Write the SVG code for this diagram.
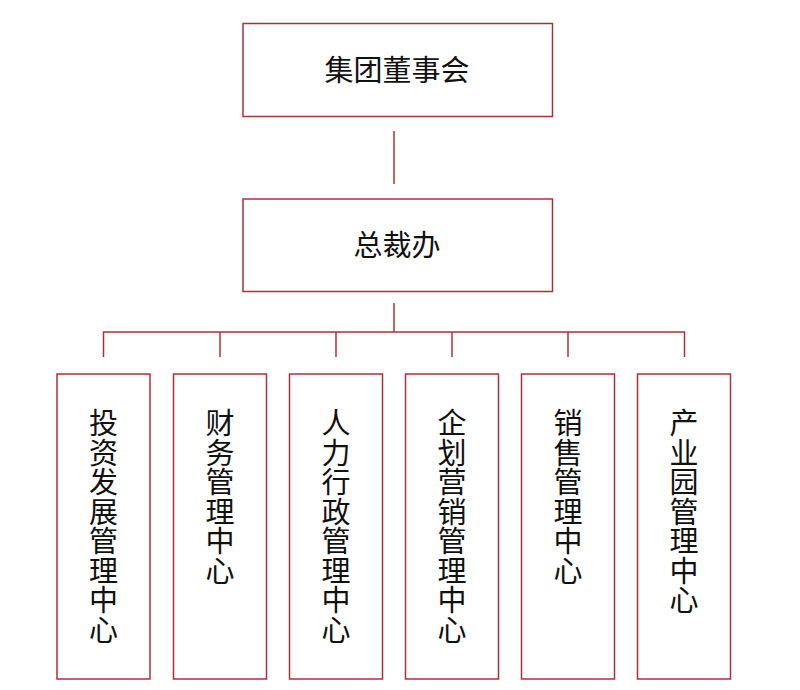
<svg xmlns="http://www.w3.org/2000/svg" width="800" height="690" viewBox="0 0 800 690">
<style>
.box{fill:#ffffff;stroke:#a8323c;stroke-width:1.5}
.ln{fill:none;stroke:#a8323c;stroke-width:1.5}
.t{font-family:"Noto Sans CJK SC","Noto Sans",sans-serif;font-size:29px;fill:#111111;text-anchor:middle}
</style>
<rect width="800" height="690" fill="#ffffff"/>
<g id="connectors">
<line class="ln" x1="394" y1="131" x2="394" y2="184"/>
<line class="ln" x1="394" y1="303" x2="394" y2="332"/>
<polyline class="ln" points="103.5,357 103.5,332 684.5,332 684.5,357"/>
<line class="ln" x1="220" y1="332" x2="220" y2="357"/>
<line class="ln" x1="336" y1="332" x2="336" y2="357"/>
<line class="ln" x1="452" y1="332" x2="452" y2="357"/>
<line class="ln" x1="568" y1="332" x2="568" y2="357"/>
</g>
<g id="board">
<rect class="box" x="243" y="23.5" width="309.5" height="93"/>
<text class="t" x="397" y="80.5">集团董事会</text>
</g>
<g id="president-office">
<rect class="box" x="243" y="199" width="309.5" height="92.5"/>
<text class="t" x="397" y="256">总裁办</text>
</g>
<g id="invest">
<rect class="box" x="57" y="374" width="93" height="305"/>
<text class="t" x="103.5" y="434"><tspan x="103.5">投</tspan><tspan x="103.5" dy="29.5">资</tspan><tspan x="103.5" dy="29.5">发</tspan><tspan x="103.5" dy="29.5">展</tspan><tspan x="103.5" dy="29.5">管</tspan><tspan x="103.5" dy="29.5">理</tspan><tspan x="103.5" dy="29.5">中</tspan><tspan x="103.5" dy="29.5">心</tspan></text>
</g>
<g id="finance">
<rect class="box" x="173.5" y="374" width="93" height="305"/>
<text class="t" x="220" y="434"><tspan x="220">财</tspan><tspan x="220" dy="29.5">务</tspan><tspan x="220" dy="29.5">管</tspan><tspan x="220" dy="29.5">理</tspan><tspan x="220" dy="29.5">中</tspan><tspan x="220" dy="29.5">心</tspan></text>
</g>
<g id="hr-admin">
<rect class="box" x="289.5" y="374" width="93" height="305"/>
<text class="t" x="336" y="434"><tspan x="336">人</tspan><tspan x="336" dy="29.5">力</tspan><tspan x="336" dy="29.5">行</tspan><tspan x="336" dy="29.5">政</tspan><tspan x="336" dy="29.5">管</tspan><tspan x="336" dy="29.5">理</tspan><tspan x="336" dy="29.5">中</tspan><tspan x="336" dy="29.5">心</tspan></text>
</g>
<g id="planning-marketing">
<rect class="box" x="405.5" y="374" width="93" height="305"/>
<text class="t" x="452" y="434"><tspan x="452">企</tspan><tspan x="452" dy="29.5">划</tspan><tspan x="452" dy="29.5">营</tspan><tspan x="452" dy="29.5">销</tspan><tspan x="452" dy="29.5">管</tspan><tspan x="452" dy="29.5">理</tspan><tspan x="452" dy="29.5">中</tspan><tspan x="452" dy="29.5">心</tspan></text>
</g>
<g id="sales">
<rect class="box" x="521.5" y="374" width="93" height="305"/>
<text class="t" x="568" y="434"><tspan x="568">销</tspan><tspan x="568" dy="29.5">售</tspan><tspan x="568" dy="29.5">管</tspan><tspan x="568" dy="29.5">理</tspan><tspan x="568" dy="29.5">中</tspan><tspan x="568" dy="29.5">心</tspan></text>
</g>
<g id="industrial-park">
<rect class="box" x="637.5" y="374" width="93" height="305"/>
<text class="t" x="684" y="434"><tspan x="684">产</tspan><tspan x="684" dy="29.5">业</tspan><tspan x="684" dy="29.5">园</tspan><tspan x="684" dy="29.5">管</tspan><tspan x="684" dy="29.5">理</tspan><tspan x="684" dy="29.5">中</tspan><tspan x="684" dy="29.5">心</tspan></text>
</g>
</svg>
